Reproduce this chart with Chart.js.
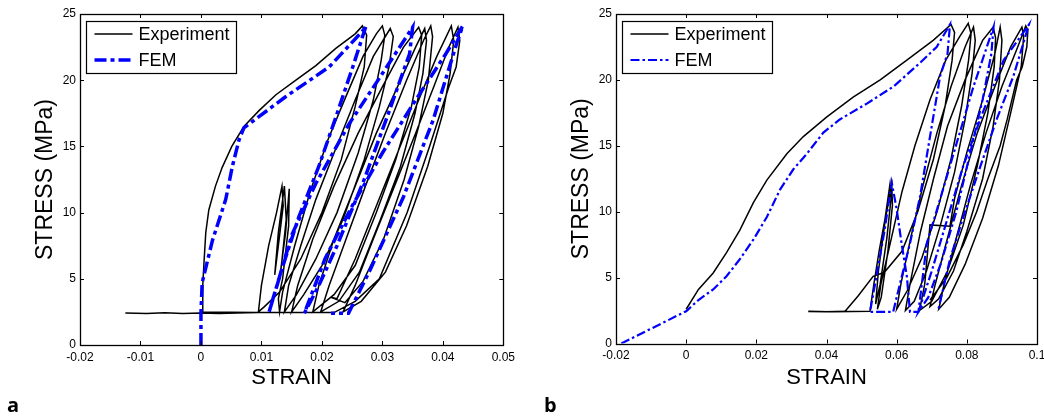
<!DOCTYPE html>
<html>
<head>
<meta charset="utf-8">
<script src="https://cdn.jsdelivr.net/npm/chart.js@4.4.0/dist/chart.umd.min.js"></script>
<style>
  body { margin: 0; background: #fff; width: 1044px; height: 416px; position: relative; overflow: hidden; }
  canvas { position: absolute; top: 0; }
  #chartA { left: 0; }
  #chartB { left: 520px; }
  .tag { position: absolute; top: 395px; font: bold 20px "Open Sans", "Noto Sans", sans-serif; line-height: 20px; }
</style>
</head>
<body>
<canvas id="chartA" width="520" height="416"></canvas>
<canvas id="chartB" width="540" height="416"></canvas>
<div class="tag" style="left:7px">a</div>
<div class="tag" style="left:544px">b</div>
<script>
// panel a: [strain, stress] pairs
const expA = [
  [-0.0125,2.42],[-0.009,2.38],[-0.006,2.43],[-0.003,2.38],[0.0,2.42],[0.003,2.38],[0.006,2.42],[0.0095,2.45],[0.0002,2.5],
  [0.0003,4.5],[0.0005,6.2],[0.0008,8.5],[0.0013,10.2],[0.0024,12.0],[0.0035,13.4],[0.0051,15.0],[0.0071,16.5],
  [0.0096,17.7],[0.0124,18.9],[0.0157,20.0],[0.0190,21.1],[0.0223,22.4],[0.0255,23.5],[0.0267,24.1],
  [0.0274,23.4],[0.0270,21.0],[0.0255,18.0],[0.0232,14.0],[0.0200,10.0],[0.0165,6.5],[0.0130,4.0],[0.0105,2.9],[0.0095,2.5],
  [0.0100,4.5],[0.0112,7.5],[0.0125,10.0],[0.0134,12.0],[0.0136,10.5],[0.0128,7.5],[0.0122,5.3],[0.0128,8.5],[0.0138,12.0],
  [0.0141,9.5],[0.0133,6.0],[0.0130,5.0],[0.0140,8.5],[0.0146,11.8],[0.0145,9.0],[0.0135,5.0],[0.0128,3.5],[0.0130,2.5],
  [0.0135,4.0],[0.0155,7.5],[0.0180,11.5],[0.0210,15.5],[0.0240,18.8],[0.0268,21.8],[0.0290,23.5],[0.0300,24.1],
  [0.0304,23.4],[0.0298,21.5],[0.0285,18.5],[0.0260,14.5],[0.0225,10.0],[0.0190,6.5],[0.0158,3.8],[0.0138,2.5],
  [0.0145,4.5],[0.0165,7.5],[0.0190,11.0],[0.0220,14.5],[0.0255,18.5],[0.0285,21.8],[0.0313,23.9],
  [0.0318,23.3],[0.0311,21.0],[0.0295,18.0],[0.0270,14.0],[0.0235,9.5],[0.0200,6.0],[0.0170,3.8],[0.0150,2.5],
  [0.0160,4.5],[0.0185,8.0],[0.0220,12.0],[0.0260,16.0],[0.0300,19.5],[0.0335,22.5],[0.0360,24.0],
  [0.0365,23.4],[0.0361,21.0],[0.0348,18.0],[0.0322,14.0],[0.0290,10.0],[0.0255,6.0],[0.0220,3.8],[0.0185,2.5],
  [0.0195,4.5],[0.0220,8.0],[0.0255,12.0],[0.0290,16.0],[0.0325,19.5],[0.0355,22.5],[0.0370,23.9],
  [0.0373,23.0],[0.0367,20.5],[0.0354,17.5],[0.0330,13.5],[0.0297,9.5],[0.0262,5.5],[0.0228,3.3],[0.0198,2.5],
  [0.0212,4.5],[0.0240,8.0],[0.0272,12.0],[0.0305,16.0],[0.0340,20.0],[0.0368,23.0],[0.0380,24.1],
  [0.0383,23.3],[0.0376,20.0],[0.0360,16.5],[0.0336,12.5],[0.0302,8.0],[0.0268,4.8],[0.0238,3.2],[0.0215,3.6],
  [0.0225,3.5],[0.0255,6.5],[0.0290,10.5],[0.0325,14.5],[0.0360,18.5],[0.0390,21.8],[0.0414,24.1],
  [0.0418,23.0],[0.0412,20.5],[0.0400,17.5],[0.0375,13.5],[0.0340,9.0],[0.0305,5.5],[0.0265,3.3],[0.0235,2.5],
  [0.0255,4.5],[0.0285,8.0],[0.0320,12.0],[0.0355,16.0],[0.0385,19.5],[0.0410,22.5],[0.0425,24.0],
  [0.0428,23.0],[0.0422,21.0],[0.0410,19.5],[0.0378,15.0],[0.0341,10.0],[0.0295,5.0],[0.0255,3.3],[0.0220,2.45],[0.0095,2.45]
];
const femA = [
  [0,0],[0,2.4],[0.0002,4.7],[0.0019,7.9],[0.0041,11.0],[0.0052,13.5],[0.0063,15.5],[0.0071,16.4],
  [0.0140,18.75],[0.0212,21.0],[0.0267,23.7],[0.0273,24.1],
  [0.0251,21.0],[0.0223,17.2],[0.0195,13.5],[0.0162,9.7],[0.0135,5.9],[0.0112,2.4],
  [0.0151,8.4],[0.0190,12.2],[0.0245,16.7],[0.0300,20.5],[0.0350,24.0],
  [0.0345,22.0],[0.0310,17.5],[0.0270,12.5],[0.0225,7.5],[0.0195,4.5],[0.0171,2.4],
  [0.0205,6.5],[0.0250,10.5],[0.0300,14.5],[0.0355,18.5],[0.0405,22.0],[0.0433,24.1],
  [0.0423,22.8],[0.0384,17.0],[0.0335,11.2],[0.0280,5.7],[0.0244,2.4],[0.0215,2.4]
];

// panel b
const expB = [
  [0.0,2.6],[0.0035,4.1],[0.0077,5.35],[0.0115,6.9],[0.0153,8.6],[0.0192,10.7],[0.0230,12.4],[0.0287,14.4],
  [0.0334,15.7],[0.0401,17.2],[0.0476,18.7],[0.0553,20.0],[0.0629,21.5],[0.0704,23.0],[0.0755,24.2],
  [0.0765,23.6],[0.0758,21.5],[0.0738,18.0],[0.0705,14.0],[0.0660,10.0],[0.0615,7.0],[0.0565,5.4],[0.0533,5.1],
  [0.0490,3.6],[0.0453,2.45],[0.0400,2.4],[0.0348,2.42],[0.0420,2.4],[0.0524,2.45],
  [0.0535,4.5],[0.0550,7.0],[0.0567,9.5],[0.0581,12.1],[0.0584,11.0],[0.0572,8.0],[0.0553,4.5],[0.0540,3.0],
  [0.0548,5.5],[0.0568,9.5],[0.0586,12.0],[0.0588,10.5],[0.0575,7.0],[0.0556,3.5],[0.0545,2.6],
  [0.0555,4.5],[0.0585,8.0],[0.0615,11.5],[0.0652,15.0],[0.0695,18.5],[0.0740,21.5],[0.0780,23.3],[0.0804,24.3],
  [0.0812,23.5],[0.0805,21.5],[0.0785,18.0],[0.0755,14.0],[0.0715,10.0],[0.0672,6.5],[0.0630,4.0],[0.0600,2.6],
  [0.0612,4.5],[0.0640,8.0],[0.0675,12.0],[0.0715,16.0],[0.0755,19.5],[0.0795,22.5],[0.0819,24.0],
  [0.0824,23.0],[0.0815,20.5],[0.0795,17.0],[0.0765,13.0],[0.0725,9.0],[0.0685,5.5],[0.0650,3.2],[0.0625,2.5],
  [0.0638,4.5],[0.0668,8.5],[0.0705,12.5],[0.0745,16.5],[0.0795,20.0],[0.0845,23.0],[0.0875,24.0],
  [0.0882,23.2],[0.0878,21.0],[0.0860,17.5],[0.0830,13.5],[0.0790,9.0],[0.0745,5.5],[0.0700,3.2],[0.0665,2.5],
  [0.0680,4.5],[0.0695,9.0],[0.0752,8.9],[0.0765,11.0],[0.0800,14.5],[0.0845,18.5],[0.0880,22.0],[0.0895,24.0],
  [0.0900,23.0],[0.0893,20.0],[0.0875,16.5],[0.0845,12.5],[0.0800,8.5],[0.0762,5.5],[0.0720,3.4],[0.0695,2.8],
  [0.0710,4.5],[0.0745,8.0],[0.0785,12.0],[0.0830,16.0],[0.0880,19.5],[0.0925,22.5],[0.0957,24.0],
  [0.0962,23.3],[0.0955,21.0],[0.0925,17.5],[0.0890,13.5],[0.0845,9.5],[0.0795,6.0],[0.0750,3.5],[0.0720,2.6],
  [0.0735,4.5],[0.0770,8.0],[0.0810,12.0],[0.0855,16.0],[0.0900,19.5],[0.0945,22.5],[0.0968,24.1],
  [0.0974,23.8],[0.0971,22.5],[0.0958,21.0],[0.0942,20.0],[0.0915,17.0],[0.0895,15.0],[0.0860,12.5],
  [0.0828,10.0],[0.0790,7.5],[0.0743,5.0],[0.0695,3.3]
];
const femB = [
  [-0.0185,0],[0,2.45],[0.0035,3.3],[0.0077,4.1],[0.0115,5.1],[0.0153,6.4],[0.0192,7.9],[0.0230,9.6],[0.0268,11.7],
  [0.0305,13.2],[0.0344,14.4],[0.0391,16.0],[0.0438,17.0],[0.0515,18.2],[0.0591,19.5],[0.0667,21.3],[0.0714,22.5],[0.0752,24.2],
  [0.0745,22.0],[0.0724,20.3],[0.0695,15.7],[0.0667,11.2],[0.0638,7.6],[0.0610,4.6],[0.0590,2.4],[0.0524,2.4],
  [0.0545,5.5],[0.0565,8.5],[0.0586,12.2],[0.0600,10.2],[0.0614,7.6],[0.0629,5.1],[0.0638,2.4],[0.0662,2.4],
  [0.0686,7.6],[0.0730,11.5],[0.0771,15.2],[0.0819,19.5],[0.0876,24.0],
  [0.0870,22.0],[0.0845,18.5],[0.0810,14.5],[0.0770,10.0],[0.0725,6.0],[0.0690,3.5],[0.0662,2.4],
  [0.0700,5.5],[0.0745,9.5],[0.0790,13.5],[0.0845,17.5],[0.0905,21.5],[0.0977,24.2],
  [0.0933,20.3],[0.0885,17.0],[0.0838,13.4],[0.0790,9.6],[0.0752,6.4],[0.0719,2.6]
];

Chart.defaults.font.family = '"Liberation Sans", Arial, sans-serif';
Chart.defaults.color = '#000';

const toXY = pts => pts.map(p => ({ x: p[0], y: p[1] }));
const fmt = v => String(+v.toFixed(3));

// matlab-style box with inward ticks + legend inside the axes
const frame = {
  id: 'frame',
  afterDatasetsDraw(chart) {
    const { ctx, chartArea: a, scales } = chart;
    ctx.save();
    ctx.strokeStyle = '#000';
    ctx.lineWidth = 1;
    ctx.setLineDash([]);
    ctx.beginPath();
    scales.x.ticks.forEach(t => {
      const p = Math.round(scales.x.getPixelForValue(t.value)) + 0.5;
      ctx.moveTo(p, a.bottom); ctx.lineTo(p, a.bottom - 4);
      ctx.moveTo(p, a.top); ctx.lineTo(p, a.top + 4);
    });
    scales.y.ticks.forEach(t => {
      const p = Math.round(scales.y.getPixelForValue(t.value)) + 0.5;
      ctx.moveTo(a.left, p); ctx.lineTo(a.left + 4, p);
      ctx.moveTo(a.right, p); ctx.lineTo(a.right - 4, p);
    });
    ctx.stroke();
    ctx.lineWidth = 1.3;
    ctx.strokeRect(Math.round(a.left) + 0.5, Math.round(a.top) + 0.5, Math.round(a.width), Math.round(a.height));

    const lx = Math.round(a.left) + 6.5, ly = Math.round(a.top) + 7.5;
    ctx.fillStyle = '#fff';
    ctx.fillRect(lx, ly, 150, 52);
    ctx.lineWidth = 1.2;
    ctx.strokeRect(lx, ly, 150, 52);
    chart.data.datasets.forEach((ds, i) => {
      const yy = ly + 12.5 + i * 26;
      ctx.beginPath();
      ctx.setLineDash(ds.borderDash || []);
      ctx.lineWidth = ds.borderWidth;
      ctx.strokeStyle = ds.borderColor;
      ctx.moveTo(lx + 8, yy);
      ctx.lineTo(lx + 46, yy);
      ctx.stroke();
      ctx.setLineDash([]);
      ctx.fillStyle = '#000';
      ctx.font = '18px "Liberation Sans", Arial, sans-serif';
      ctx.textBaseline = 'middle';
      ctx.fillText(ds.label, lx + 52, yy + 1);
    });
    ctx.restore();
  }
};

function makeChart(id, exp, fem, o) {
  return new Chart(document.getElementById(id), {
    type: 'scatter',
    data: {
      datasets: [
        { label: 'Experiment', data: toXY(exp), showLine: true, borderColor: '#000', borderWidth: 1.5,
          pointRadius: 0, tension: 0, order: 1 },
        { label: 'FEM', data: toXY(fem), showLine: true, borderColor: '#0000ff', borderWidth: o.femWidth,
          borderDash: o.femDash, pointRadius: 0, tension: 0, order: 0 }
      ]
    },
    options: {
      responsive: false,
      animation: false,
      layout: { padding: { top: 14, right: o.padRight, left: 0, bottom: 0 } },
      plugins: { legend: { display: false }, tooltip: { enabled: false } },
      scales: {
        x: {
          type: 'linear', min: -0.02, max: o.xMax,
          grid: { display: false, drawTicks: false }, border: { display: false },
          ticks: { stepSize: o.xStep, font: { size: 12 }, padding: 5, callback: fmt, maxRotation: 0 },
          title: { display: true, text: 'STRAIN', font: { size: 22 }, padding: { top: 0, bottom: 25 } },
          afterFit: s => { s.height = 416 - o.bottom; }
        },
        y: {
          min: 0, max: 25,
          grid: { display: false, drawTicks: false }, border: { display: false },
          ticks: { stepSize: 5, font: { size: 12 }, padding: 4, callback: fmt },
          title: { display: true, text: 'STRESS (MPa)', font: { size: 23 }, padding: { top: o.yTitlePad, bottom: 0 } },
          afterFit: s => { s.width = o.yWidth; }
        }
      }
    },
    plugins: [frame]
  });
}

makeChart('chartA', expA, femA, {
  xMax: 0.05, xStep: 0.01, padRight: 520 - 504, bottom: 345, yWidth: 80, yTitlePad: 32,
  femWidth: 3.5, femDash: [12, 4, 4, 4]
});
makeChart('chartB', expB, femB, {
  xMax: 0.1, xStep: 0.02, padRight: 540 - 517, bottom: 343.5, yWidth: 96, yTitlePad: 48,
  femWidth: 2.2, femDash: [9, 3, 2.5, 3]
});
</script>
</body>
</html>
